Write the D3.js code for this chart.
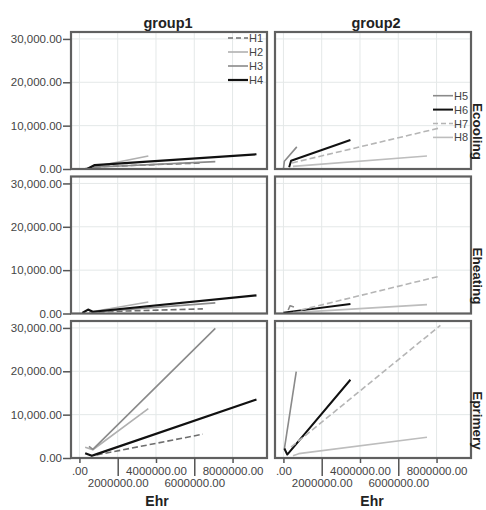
<!DOCTYPE html>
<html><head><meta charset="utf-8">
<script src="https://cdn.jsdelivr.net/npm/d3@7/dist/d3.min.js"></script>
<style>
body{margin:0;background:#fff;}
svg text{font-family:"Liberation Sans",Arial,sans-serif;}
</style></head>
<body><svg id="c" width="486" height="510"></svg>
<script>
// ---- data ----
const columns = ["group1", "group2"];
const rows = ["Ecooling", "Eheating", "Eprimery"];
const legend1 = ["H1", "H2", "H3", "H4"];
const legend2 = ["H5", "H6", "H7", "H8"];
const yTicks = [0, 10000, 20000, 30000];
const yTickLabels = ["0.00", "10,000.00", "20,000.00", "30,000.00"];
const xTicks = [0, 2000000, 4000000, 6000000, 8000000];
const xTickLabels = [".00", "2000000.00", "4000000.00", "6000000.00", "8000000.00"];

// [Ehr, value] points per series, per panel
const group1_Ecooling = {
  H1: [[800000, 500], [6400000, 1400]],
  H2: [[300000, 100], [3600000, 3000]],
  H3: [[700000, 400], [7100000, 1700]],
  H4: [[400000, 0], [800000, 900], [9250000, 3400]]
};
const group2_Ecooling = {
  H5: [[0, 0], [50000, 1800], [700000, 5100]],
  H6: [[300000, 400], [400000, 1900], [3500000, 6700]],
  H7: [[450000, 1400], [8200000, 9500]],
  H8: [[500000, 600], [7500000, 3000]]
};
const group1_Eheating = {
  H1: [[1000000, 400], [6450000, 1070]],
  H2: [[500000, 300], [3600000, 2650]],
  H3: [[600000, 300], [7100000, 2450]],
  H4: [[150000, 100], [450000, 900], [700000, 400], [9250000, 4170]]
};
const group2_Eheating = {
  H5: [[250000, 800], [350000, 1800], [550000, 1500]],
  H6: [[0, 200], [3500000, 2200]],
  H7: [[900000, 800], [8200000, 8650]],
  H8: [[500000, 200], [7500000, 2050]]
};
const group1_Eprimery = {
  H1: [[900000, 700], [6450000, 5500]],
  H2: [[300000, 2500], [700000, 1900], [3600000, 11400]],
  H3: [[500000, 2700], [700000, 2000], [7100000, 29900]],
  H4: [[300000, 1100], [650000, 500], [900000, 900], [9250000, 13500]]
};
const group2_Eprimery = {
  H5: [[50000, 2100], [670000, 19900]],
  H6: [[50000, 2200], [200000, 800], [3500000, 18050]],
  H7: [[400000, 2500], [8200000, 30600]],
  H8: [[500000, 500], [800000, 1000], [7500000, 4770]]
};
const panelData = {
  group1: { Ecooling: group1_Ecooling, Eheating: group1_Eheating, Eprimery: group1_Eprimery },
  group2: { Ecooling: group2_Ecooling, Eheating: group2_Eheating, Eprimery: group2_Eprimery }
};

// ---- styles ----
const style = {
  H1: { c: "#6e6e6e", w: 1.6, d: "6,3" },
  H2: { c: "#b0b0b0", w: 1.6, d: null },
  H3: { c: "#8a8a8a", w: 1.6, d: null },
  H4: { c: "#111111", w: 2.2, d: null },
  H5: { c: "#8a8a8a", w: 1.6, d: null },
  H6: { c: "#111111", w: 2.0, d: null },
  H7: { c: "#b5b5b5", w: 1.6, d: "6,3" },
  H8: { c: "#bdbdbd", w: 1.6, d: null }
};

const svg = d3.select("#c");
const colLeft = [71, 275];
const panelW = 196;
const rowTop = [32, 176.5, 321];
const panelH = 137;

const x = d3.scaleLinear().domain([-440000, 9800000]).range([0, panelW]);
const y = d3.scaleLinear().domain([0, 31600]).range([panelH, 0]);
const line = d3.line().x(d => x(d[0])).y(d => y(d[1]));

columns.forEach((col, ci) => {
  rows.forEach((row, ri) => {
    const g = svg.append("g").attr("transform", `translate(${colLeft[ci]},${rowTop[ri]})`);
    g.append("rect").attr("width", panelW).attr("height", panelH).attr("fill", "#fff");
    // grid
    g.selectAll(".vg").data(xTicks).enter().append("line")
      .attr("x1", d => x(d)).attr("x2", d => x(d)).attr("y1", 0).attr("y2", panelH)
      .attr("stroke", "#e4e8e8").attr("stroke-width", 1);
    g.selectAll(".hg").data(yTicks).enter().append("line")
      .attr("y1", d => y(d)).attr("y2", d => y(d)).attr("x1", 0).attr("x2", panelW)
      .attr("stroke", "#e4e8e8").attr("stroke-width", 1);
    // lines
    const data = panelData[col][row];
    const clipId = `clip${ci}${ri}`;
    g.append("clipPath").attr("id", clipId).append("rect").attr("width", panelW).attr("height", panelH);
    const lg = g.append("g").attr("clip-path", `url(#${clipId})`);
    Object.keys(data).forEach(k => {
      const s = style[k];
      lg.append("path").datum(data[k]).attr("d", line)
        .attr("fill", "none").attr("stroke", s.c).attr("stroke-width", s.w)
        .attr("stroke-dasharray", s.d).attr("stroke-linejoin", "round");
    });
    // border
    g.append("rect").attr("width", panelW).attr("height", panelH)
      .attr("fill", "none").attr("stroke", "#606060").attr("stroke-width", 2.2);

    // y axis on left column
    if (ci === 0) {
      const ya = d3.axisLeft(y).tickValues(yTicks).tickFormat((d, i) => yTickLabels[i]).tickSize(8).tickPadding(1);
      const ag = g.append("g").call(ya);
      ag.select(".domain").remove();
      ag.selectAll("line").attr("stroke", "#555").attr("stroke-width", 1.5);
      ag.selectAll("text").attr("fill", "#444").style("font-size", "11.5px");
    }
    // x axis on bottom row
    if (ri === rows.length - 1) {
      const xa = d3.axisBottom(x).tickValues(xTicks).tickFormat((d, i) => xTickLabels[i]).tickSize(0);
      const ag = g.append("g").attr("transform", `translate(0,${panelH})`).call(xa);
      ag.select(".domain").remove();
      ag.selectAll(".tick").each(function (d, i) {
        const t = d3.select(this);
        const long = i % 2 === 1;
        t.select("line").attr("y2", long ? 18 : 5).attr("stroke", "#555").attr("stroke-width", 1.5);
        t.select("text").attr("y", long ? 21 : 9).attr("fill", "#444").style("font-size", "11.5px");
      });
    }
    // right strip label
    if (ci === columns.length - 1) {
      svg.append("text")
        .attr("transform", `translate(473,${rowTop[ri] + panelH / 2 + 31}) rotate(90)`)
        .attr("text-anchor", "middle").attr("font-weight", "bold").style("font-size", "13.5px")
        .attr("fill", "#222").text(row);
    }
  });
  // column title
  svg.append("text").attr("x", colLeft[ci] + panelW / 2 + (ci === 0 ? -1 : 3)).attr("y", 28)
    .attr("text-anchor", "middle").attr("font-weight", "bold").style("font-size", "14.5px")
    .attr("fill", "#222").text(col);
  // x title
  svg.append("text").attr("x", ci === 0 ? 157 : 372).attr("y", 506)
    .attr("text-anchor", "middle").attr("font-weight", "bold").style("font-size", "14px")
    .attr("fill", "#222").text("Ehr");
});

// legends
function drawLegend(items, lx, ly, dy) {
  items.forEach((k, i) => {
    const s = style[k];
    const yy = ly + i * dy;
    svg.append("line").attr("x1", lx).attr("x2", lx + 20).attr("y1", yy).attr("y2", yy)
      .attr("stroke", s.c).attr("stroke-width", s.w).attr("stroke-dasharray", s.d ? "5,3" : null);
    svg.append("text").attr("x", lx + 21).attr("y", yy + 4).style("font-size", "11px")
      .attr("fill", "#444").text(k);
  });
}
drawLegend(legend1, 228, 38, 14);
drawLegend(legend2, 433, 95.7, 13.9);
</script></body></html>
